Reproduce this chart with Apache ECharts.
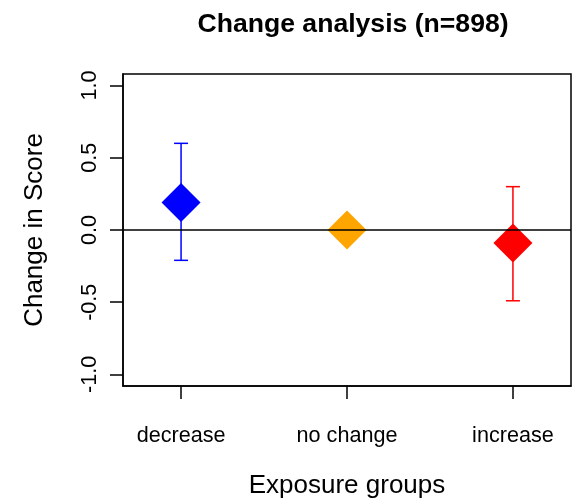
<!DOCTYPE html>
<html>
<head>
<meta charset="utf-8">
<script src="https://cdn.jsdelivr.net/npm/echarts@6/dist/echarts.min.js"></script>
<style>
  html, body { margin: 0; padding: 0; background: #fff; }
  #chart { width: 573px; height: 504px; }
</style>
</head>
<body>
<div id="chart"></div>
<script>
const groups = ['decrease', 'no change', 'increase'];
const means = [0.19, 0.0, -0.09];
const lower = [-0.21, 0.0, -0.49];
const upper = [0.60, 0.0, 0.30];
const colors = ['#0000FF', '#FFA500', '#FF0000'];
const yTicks = [-1, -0.5, 0, 0.5, 1];
const xTicks = [1, 2, 3];

const font = "'Liberation Sans', Arial, sans-serif";
const chart = echarts.init(document.getElementById('chart'));

const barData = groups.map((g, i) => [i + 1, lower[i], upper[i], i]);
const pointData = groups.map((g, i) => ({
  value: [i + 1, means[i]],
  itemStyle: { color: colors[i], opacity: 1 },
}));

chart.setOption({
  animation: false,
  title: {
    text: 'Change analysis (n=898)',
    left: 348,
    top: 6,
    textAlign: 'center',
    textStyle: { fontFamily: font, fontSize: 26.6, fontWeight: 'bold', color: '#000' },
  },
  grid: {
    left: 123, right: 2, top: 74, bottom: 113,
    show: true, borderColor: '#000', borderWidth: 1.5, backgroundColor: 'transparent',
  },
  xAxis: {
    type: 'value',
    min: 0.65,
    max: 3.35,
    name: 'Exposure groups',
    nameLocation: 'middle',
    nameGap: 87,
    nameTextStyle: { fontFamily: font, fontSize: 26, color: '#000' },
    axisLine: { show: true, onZero: false, lineStyle: { color: '#000', width: 1.5 } },
    axisTick: { show: true, length: 13, customValues: xTicks, lineStyle: { color: '#000', width: 1.5 } },
    axisLabel: {
      customValues: xTicks,
      margin: 39,
      fontFamily: font, fontSize: 21.6, color: '#000',
      formatter: v => groups[Math.round(v) - 1] || '',
    },
    splitLine: { show: false },
  },
  yAxis: {
    type: 'value',
    min: -1.08,
    max: 1.08,
    name: 'Change in Score',
    nameLocation: 'middle',
    nameGap: 75,
    nameTextStyle: { fontFamily: font, fontSize: 26, color: '#000' },
    axisLine: { show: true, onZero: false, lineStyle: { color: '#000', width: 1.5 } },
    axisTick: { show: true, length: 13, customValues: yTicks, lineStyle: { color: '#000', width: 1.5 } },
    axisLabel: {
      customValues: yTicks,
      rotate: 90,
      margin: 22,
      fontFamily: font, fontSize: 21.6, color: '#000',
      formatter: v => v.toFixed(1),
    },
    splitLine: { show: false },
  },
  series: [
    {
      type: 'custom',
      z: 2,
      data: barData,
      renderItem: (params, api) => {
        const x = api.value(0);
        const lo = api.coord([x, api.value(1)]);
        const hi = api.coord([x, api.value(2)]);
        const c = colors[api.value(3)];
        const cap = 7;
        const style = { stroke: c, lineWidth: 1.5, opacity: 1 };
        return {
          type: 'group',
          children: [
            { type: 'line', shape: { x1: lo[0], y1: lo[1], x2: hi[0], y2: hi[1] }, style },
            { type: 'line', shape: { x1: hi[0] - cap, y1: hi[1], x2: hi[0] + cap, y2: hi[1] }, style },
            { type: 'line', shape: { x1: lo[0] - cap, y1: lo[1], x2: lo[0] + cap, y2: lo[1] }, style },
          ],
        };
      },
    },
    {
      type: 'scatter',
      z: 3,
      symbol: 'diamond',
      symbolSize: 39,
      data: pointData,
    },
    {
      type: 'line',
      z: 5,
      data: [],
      markLine: {
        silent: true,
        symbol: ['none', 'none'],
        label: { show: false },
        lineStyle: { color: '#000', width: 1.5, type: 'solid' },
        data: [{ yAxis: 0 }],
      },
    },
  ],
});
</script>
</body>
</html>
